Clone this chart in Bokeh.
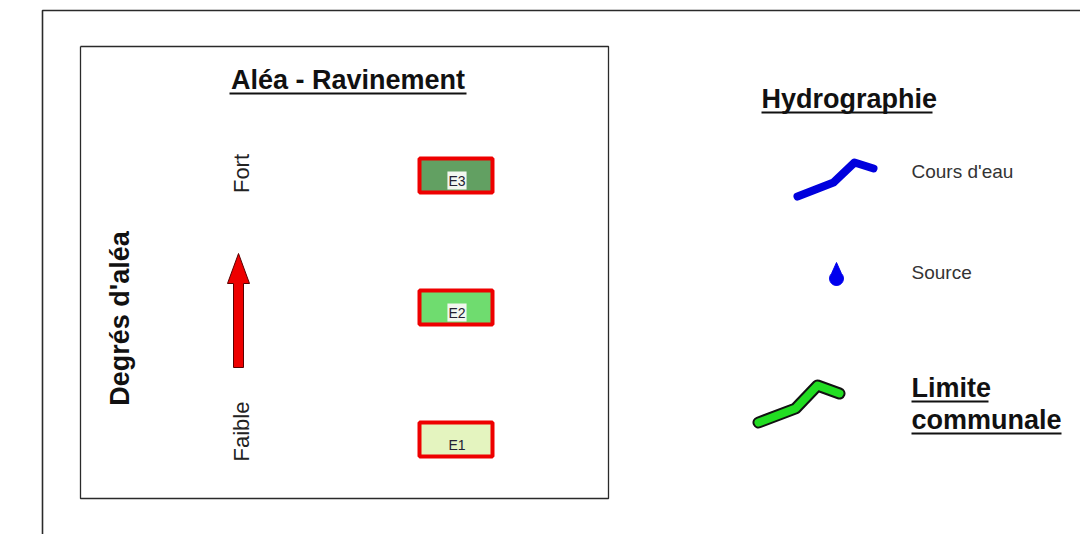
import numpy as np
from bokeh.plotting import figure
from bokeh.models import Range1d
from bokeh.core.properties import value
from bokeh.embed import file_html
from bokeh.resources import INLINE

# ---------------- data ----------------
title_left = "Aléa - Ravinement"
axis_label = "Degrés d'aléa"
level_low = "Faible"
level_high = "Fort"
hazard_classes = ["E1", "E2", "E3"]          # bottom -> top
hazard_rank = [0, 1, 2]

title_right = "Hydrographie"
hydro_labels = ["Cours d'eau", "Source"]
limit_labels = ["Limite", "communale"]

# ---------------- styles ----------------
class_fills = ["#e4f4bf", "#6fdc6f", "#62a062"]
class_label_bg = ["#e4f4bf", "#f2f7f0", "#f2f7f0"]
FONT = value("Liberation Sans")

W, H = 1080, 534
def px(X):
    return np.asarray(X, dtype=float)
def py(Y):
    return H - np.asarray(Y, dtype=float)
def base(Y, size):
    # place text so its alphabetic baseline falls at Y (text_baseline="middle")
    return np.asarray(Y, dtype=float) - 0.35 * size

p = figure(width=W, height=H, x_range=Range1d(0, W), y_range=Range1d(0, H),
           output_backend="svg", toolbar_location=None,
           x_axis_location=None, y_axis_location=None, min_border=0)
p.grid.visible = False
p.outline_line_color = None
p.background_fill_color = "white"
p.border_fill_color = "white"

# outer frame (open to the right / bottom)
p.line(px([42, 42, 1100]), py([560, 10, 10]), line_color="#2a2a2a", line_width=1.6)
# inner box
p.line(px([80, 608, 608, 80, 80]), py([46, 46, 498, 498, 46]), line_color="#2a2a2a", line_width=1.3)

# title left
p.text(px([347.5]), py(base([89], 27)), text=[title_left], text_font=FONT, text_font_size="27px",
       text_font_style="bold", text_align="center", text_baseline="middle", text_color="#111111")
p.line(px([229, 466]), py([93, 93]), line_color="#111111", line_width=2)

# vertical axis label (rotated: baseline is along x)
p.text(base([129], 27), py([318]), text=[axis_label], text_font=FONT, text_font_size="27px",
       text_font_style="bold", text_align="center", text_baseline="middle",
       angle=np.pi / 2, text_color="#111111")

# levels
p.text(base([249, 249], 22), py([173, 431]), text=[level_high, level_low], text_font=FONT,
       text_font_size="22px", text_align="center", text_baseline="middle",
       angle=np.pi / 2, text_color="#222222")

# red arrow
ax = [238, 249, 243, 243, 233, 233, 227, 238]
ay = [253, 283, 283, 367, 367, 283, 283, 253]
p.patch(px(ax), py(ay), fill_color="#ee0000", line_color="#5a0000", line_width=1)

# hazard class boxes
box_x = 455.5
box_y0 = 439.0
box_step = -132.0
ys = [box_y0 + r * box_step for r in hazard_rank]
p.rect(x=px([box_x] * 3), y=py(ys), width=73, height=34, fill_color=class_fills,
       line_color="#ee0000", line_width=4)
p.text(x=px([box_x + 1] * 3), y=py([y + 5 for y in ys]), text=hazard_classes, text_font=FONT,
       text_font_size="14px", text_align="center", text_baseline="middle", text_color="#222233",
       background_fill_color=class_label_bg, padding=1)

# right legend title
p.text(px([761]), py(base([108], 27)), text=[title_right], text_font=FONT, text_font_size="27px",
       text_font_style="bold", text_align="left", text_baseline="middle", text_color="#111111")
p.line(px([761, 932]), py([112, 112]), line_color="#111111", line_width=2)

# river symbol
p.line(px([797, 833, 854, 873]), py([196, 182, 162, 168]), line_color="#0000dd",
       line_width=8, line_cap="round", line_join="round")
# source drop
t = np.linspace(-0.25 * np.pi, 1.25 * np.pi, 40)
dx = list(836 + 7 * np.cos(t)) + [836]
dy = list(278 + 7 * np.sin(t)) + [262]
p.patch(px(dx), py(dy), fill_color="#0000ee", line_color="#0000ee", line_width=1)

p.text(px([911, 911]), py(base([178, 279], 19)), text=hydro_labels, text_font=FONT,
       text_font_size="19px", text_align="left", text_baseline="middle", text_color="#333333")

# municipal limit symbol
gx, gy = [758, 795, 817, 839], [422, 408, 385, 393]
p.line(px(gx), py(gy), line_color="#111111", line_width=12, line_cap="round", line_join="round")
p.line(px(gx), py(gy), line_color="#22dd22", line_width=8, line_cap="round", line_join="round")

p.text(px([911, 911]), py(base([397, 429], 27)), text=limit_labels, text_font=FONT,
       text_font_size="27px", text_font_style="bold", text_align="left", text_baseline="middle",
       text_color="#111111")
p.line(px([911, 988]), py([401, 401]), line_color="#111111", line_width=2)
p.line(px([911, 1061]), py([433, 433]), line_color="#111111", line_width=2)

open("out.html", "w").write(file_html(p, INLINE))
